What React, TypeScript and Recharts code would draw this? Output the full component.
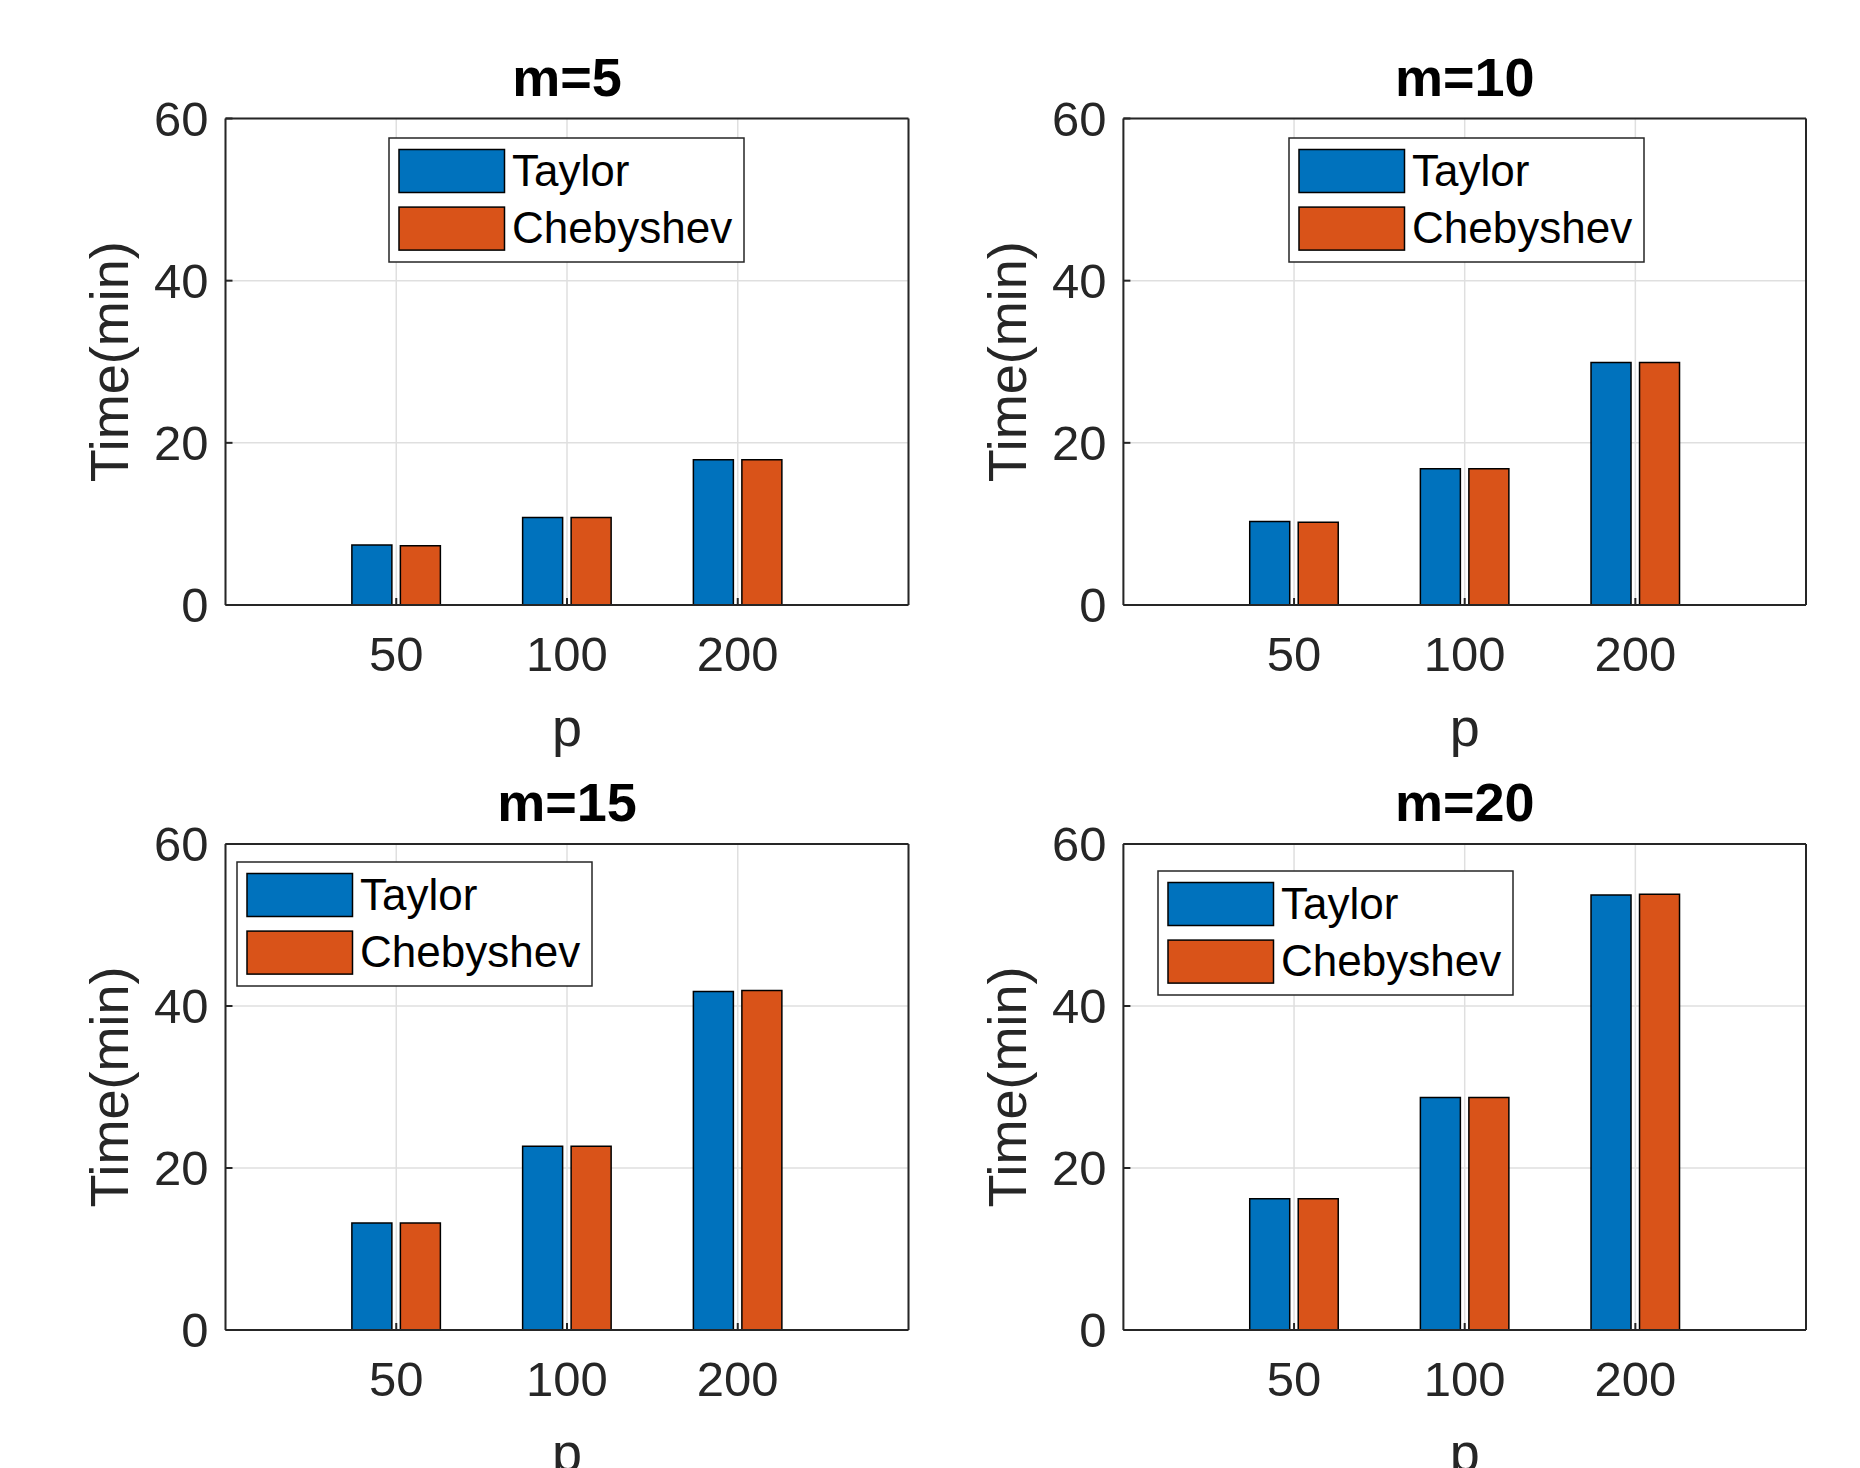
import React from 'react'
import { BarChart, Bar, XAxis, YAxis, CartesianGrid, Legend } from 'recharts'

// p values on the x axis and times (min) per panel
const pLabels = ['50', '100', '200']
const taylorM5 = [7.4, 10.8, 17.9]
const chebyshevM5 = [7.3, 10.8, 17.9]
const taylorM10 = [10.3, 16.8, 29.9]
const chebyshevM10 = [10.2, 16.8, 29.9]
const taylorM15 = [13.2, 22.7, 41.8]
const chebyshevM15 = [13.2, 22.7, 41.9]
const taylorM20 = [16.2, 28.7, 53.7]
const chebyshevM20 = [16.2, 28.7, 53.8]
const timeTicks = [0, 20, 40, 60]
const seriesNames = ['Taylor', 'Chebyshev']

const BLUE = '#0072BD'
const ORANGE = '#D95319'
const AXIS = '#262626'
const GRID = '#dfdfdf'
const FONT = '"Liberation Sans", Arial, Helvetica, sans-serif'

interface PlotBox { left: number; right: number; top: number; bottom: number }

interface PanelProps {
  title: string
  taylor: number[]
  chebyshev: number[]
  left: number
  top: number
  width: number
  height: number
  plot: PlotBox
  legendAt: { left: number; top: number }
}

function LegendBox({ payload }: any) {
  const fallback = [BLUE, ORANGE]
  // keep the series order (recharts sorts the payload by name)
  const items = seriesNames.map((name, i) => {
    const hit = (payload || []).find((p: any) => p.value === name)
    return { name, color: hit ? hit.color : fallback[i] }
  })
  return (
    <svg width={358} height={127} style={{ display: 'block' }}>
      <rect x={1} y={1} width={355} height={124} fill="#fff" stroke={AXIS} strokeWidth={1.5} />
      {items.map((it, i) => (
        <g key={it.name}>
          <rect x={11} y={12.5 + i * 57.6} width={105.5} height={43} fill={it.color} stroke="#000" strokeWidth={1.5} />
          <text x={124} y={48.5 + i * 57.6} fontSize={44} fontFamily={FONT} fill="#000">{it.name}</text>
        </g>
      ))}
    </svg>
  )
}

function Panel({ title, taylor, chebyshev, left, top, width, height, plot, legendAt }: PanelProps) {
  const data = pLabels.map((p, i) => ({ p, taylor: taylor[i], chebyshev: chebyshev[i] }))
  const pad = (plot.right - plot.left) / 8
  const yAxisW = 100
  const xAxisH = 100

  return (
    <div style={{ position: 'absolute', left, top }}>
      <BarChart
        width={width}
        height={height}
        data={data}
        margin={{
          top: plot.top - 1,
          left: plot.left - yAxisW,
          right: width - plot.right - 1,
          bottom: height - plot.bottom - xAxisH,
        }}
        barSize={40}
        barGap={8.5}
      >
        <CartesianGrid xAxisId="bottom" yAxisId="left" stroke={GRID} strokeWidth={1.5} />
        <XAxis
          xAxisId="bottom"
          dataKey="p"
          height={xAxisH}
          padding={{ left: pad, right: pad }}
          interval={0}
          tickSize={-7}
          tickMargin={38}
          stroke={AXIS}
          strokeWidth={2}
          tick={{ fill: AXIS, fontSize: 49, fontFamily: FONT }}
          label={{
            content: (props: any) => {
              const vb = props.viewBox
              return (
                <text x={vb.x + vb.width / 2} y={vb.y + 141} textAnchor="middle" fontSize={54} fontFamily={FONT} fill={AXIS}>p</text>
              )
            },
          }}
        />
        <XAxis
          xAxisId="top"
          orientation="top"
          dataKey="p"
          height={1}
          padding={{ left: pad, right: pad }}
          interval={0}
          tick={false}
          tickSize={-7}
          stroke={AXIS}
          strokeWidth={2}
          label={{
            content: (props: any) => {
              const vb = props.viewBox
              return (
                <text x={vb.x + vb.width / 2} y={vb.y + vb.height - 23} textAnchor="middle" fontSize={54} fontWeight="bold" fontFamily={FONT} fill="#000">{title}</text>
              )
            },
          }}
        />
        <YAxis
          yAxisId="left"
          width={yAxisW}
          domain={[0, 60]}
          ticks={timeTicks}
          interval={0}
          tickSize={-7}
          tickMargin={24}
          stroke={AXIS}
          strokeWidth={2}
          tick={{ fill: AXIS, fontSize: 49, fontFamily: FONT }}
          label={{
            content: (props: any) => {
              const vb = props.viewBox
              const cx = vb.x + vb.width - 97.8
              const cy = vb.y + vb.height / 2
              return (
                <text x={cx} y={cy} transform={`rotate(-90, ${cx}, ${cy})`} textAnchor="middle" fontSize={54} fontFamily={FONT} fill={AXIS}>Time(min)</text>
              )
            },
          }}
        />
        <YAxis
          yAxisId="right"
          orientation="right"
          width={1}
          domain={[0, 60]}
          ticks={timeTicks}
          interval={0}
          tick={false}
          tickSize={-7}
          stroke={AXIS}
          strokeWidth={2}
        />
        <Legend
          layout="horizontal"
          verticalAlign="middle"
          align="center"
          width={358}
          height={127}
          wrapperStyle={{ left: legendAt.left, top: legendAt.top, width: 358, height: 127 }}
          content={(props: any) => <LegendBox payload={props.payload} />}
        />
        <Bar xAxisId="bottom" yAxisId="left" dataKey="taylor" name="Taylor" fill={BLUE} stroke="#000" strokeWidth={1.5} isAnimationActive={false} />
        <Bar xAxisId="bottom" yAxisId="left" dataKey="chebyshev" name="Chebyshev" fill={ORANGE} stroke="#000" strokeWidth={1.5} isAnimationActive={false} />
      </BarChart>
    </div>
  )
}

export default function App() {
  return (
    <div style={{ position: 'absolute', left: 0, top: 0, width: 1860, height: 1468, background: '#fff', overflow: 'hidden' }}>
      <Panel
        title="m=5"
        taylor={taylorM5}
        chebyshev={chebyshevM5}
        left={0}
        top={0}
        width={930}
        height={800}
        plot={{ left: 225.5, right: 908.5, top: 118.5, bottom: 605 }}
        legendAt={{ left: 387.5, top: 136.5 }}
      />
      <Panel
        title="m=10"
        taylor={taylorM10}
        chebyshev={chebyshevM10}
        left={930}
        top={0}
        width={930}
        height={800}
        plot={{ left: 193.4, right: 876, top: 118.5, bottom: 605 }}
        legendAt={{ left: 357.5, top: 136.5 }}
      />
      <Panel
        title="m=15"
        taylor={taylorM15}
        chebyshev={chebyshevM15}
        left={0}
        top={734}
        width={930}
        height={734}
        plot={{ left: 225.5, right: 908.5, top: 110, bottom: 596 }}
        legendAt={{ left: 235.5, top: 127 }}
      />
      <Panel
        title="m=20"
        taylor={taylorM20}
        chebyshev={chebyshevM20}
        left={930}
        top={734}
        width={930}
        height={734}
        plot={{ left: 193.4, right: 876, top: 110, bottom: 596 }}
        legendAt={{ left: 227, top: 135.5 }}
      />
    </div>
  )
}
